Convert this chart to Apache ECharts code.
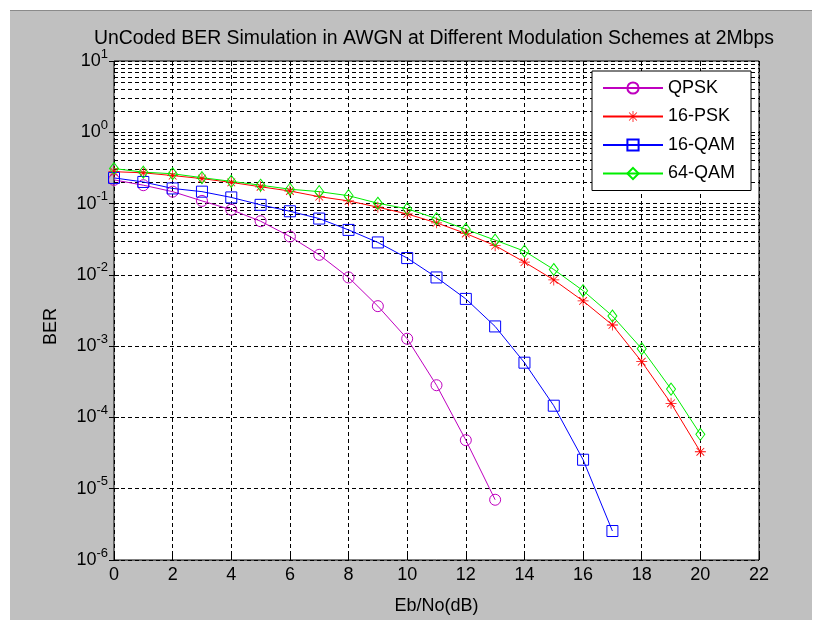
<!DOCTYPE html>
<html>
<head>
<meta charset="utf-8">
<script src="https://cdn.jsdelivr.net/npm/echarts@6/dist/echarts.min.js"></script>
<style>
  html, body { margin: 0; padding: 0; background: #fff; }
  #berChart {
    position: absolute; left: 10px; top: 10px;
    width: 802px; height: 610px;
    border-top: 1px solid #8a8a8a;
    box-sizing: border-box;
  }
</style>
</head>
<body>
<div id="berChart"></div>
<script>
// Eb/No (dB) and BER values
const ebno = [0, 1, 2, 3, 4, 5, 6, 7, 8, 9, 10, 11, 12, 13, 14, 15, 16, 17, 18, 19, 20];
const qpsk = [0.215, 0.181, 0.147, 0.109, 0.082, 0.0566, 0.0345, 0.0191, 0.0092, 0.00364, 0.00127, 2.83e-4, 4.8e-5, 7.0e-6];
const psk16 = [0.28, 0.27, 0.247, 0.224, 0.198, 0.172, 0.150, 0.125, 0.109, 0.089, 0.0715, 0.0537, 0.038, 0.0257, 0.0151, 0.0085, 0.0043, 0.00198, 6.05e-4, 1.58e-4, 3.3e-5];
const qam16 = [0.229, 0.201, 0.163, 0.147, 0.122, 0.096, 0.078, 0.0616, 0.0427, 0.0285, 0.0172, 0.0092, 0.0046, 0.00189, 5.86e-4, 1.46e-4, 2.55e-5, 2.55e-6];
const qam64 = [0.31, 0.276, 0.262, 0.231, 0.205, 0.181, 0.159, 0.147, 0.129, 0.101, 0.0845, 0.0616, 0.0436, 0.0307, 0.0215, 0.0119, 0.0060, 0.00265, 9.2e-4, 2.5e-4, 5.8e-5];
const xTicks = [0, 2, 4, 6, 8, 10, 12, 14, 16, 18, 20, 22];
const decades = [-6, -5, -4, -3, -2, -1, 0];

const font = "'Liberation Sans Narrow', 'Liberation Sans', Arial, sans-serif";
const dash = [4, 3];

// matlab style '*' marker
const asterisk = 'path://M9.3 0L10.7 0L10.7 20L9.3 20Z M0 9.3L20 9.3L20 10.7L0 10.7Z ' +
  'M2.5 3.5L3.5 2.5L17.5 16.5L16.5 17.5Z M16.5 2.5L17.5 3.5L3.5 17.5L2.5 16.5Z';

function pairs(vals) {
  return vals.map((v, i) => [ebno[i], v]);
}

// minor grid lines 2..9 x 10^k
let minorLines = [];
decades.forEach(k => {
  for (let m = 2; m <= 9; m++) {
    minorLines.push({ yAxis: m * Math.pow(10, k) });
  }
});

function curve(name, vals, color, symbol, size) {
  return {
    name: name,
    type: 'line',
    data: pairs(vals),
    symbol: symbol,
    symbolSize: size,
    z: 3,
    lineStyle: { color: color, width: 1 },
    itemStyle: {
      color: symbol === asterisk ? color : 'transparent',
      borderColor: color,
      borderWidth: symbol === asterisk ? 0 : 1
    }
  };
}

let myChart = echarts.init(document.getElementById('berChart'));
let option = {
  animation: false,
  backgroundColor: '#c0c0c0',
  title: {
    text: 'UnCoded BER Simulation in AWGN at Different Modulation Schemes at 2Mbps',
    left: 419,
    top: 13,
    textAlign: 'center',
    textStyle: { fontFamily: font, fontSize: 19.4, fontWeight: 'normal', color: '#000' }
  },
  grid: {
    left: 104, top: 50, width: 645, height: 509,
    show: true, backgroundColor: '#fff', borderColor: '#000', borderWidth: 1
  },
  legend: {
    orient: 'vertical',
    left: 582, top: 60,
    z: 10,
    itemWidth: 60, itemHeight: 14, itemGap: 10.5,
    padding: [8, 16, 8, 10],
    backgroundColor: '#fff',
    borderColor: '#000', borderWidth: 1,
    textStyle: { fontFamily: font, fontSize: 18, color: '#000' },
    data: ['QPSK', '16-PSK', '16-QAM', '64-QAM']
  },
  xAxis: [{
    type: 'value', min: 0, max: 22, interval: 2,
    name: 'Eb/No(dB)', nameLocation: 'middle', nameGap: 37,
    nameTextStyle: { fontFamily: font, fontSize: 18, color: '#000' },
    axisLine: { show: false },
    axisTick: { inside: true, length: 5, lineStyle: { color: '#000' } },
    axisLabel: { fontFamily: font, fontSize: 18, color: '#000', margin: 6,
      customValues: xTicks },
    splitLine: { show: true, lineStyle: { color: '#000', type: dash } }
  }, {
    type: 'value', min: 0, max: 22, interval: 2, position: 'top',
    axisLine: { show: false },
    axisTick: { inside: true, length: 5, lineStyle: { color: '#000' } },
    axisLabel: { show: false },
    splitLine: { show: false }
  }],
  yAxis: [{
    type: 'log', logBase: 10, min: 1e-6, max: 10, interval: 1,
    name: 'BER', nameLocation: 'middle', nameGap: 54,
    nameTextStyle: { fontFamily: font, fontSize: 18, color: '#000', padding: [0, 32, 0, 0] },
    axisLine: { show: false },
    axisTick: { inside: true, length: 5, lineStyle: { color: '#000' } },
    axisLabel: {
      margin: 6,
      formatter: v => '{b|10}{s|' + Math.round(Math.log10(v)) + '}',
      rich: {
        b: { fontFamily: font, fontSize: 18, color: '#000' },
        s: { fontFamily: font, fontSize: 13, color: '#000', padding: [0, 0, 14, 0] }
      }
    },
    splitLine: { show: true, lineStyle: { color: '#000', type: dash } }
  }, {
    type: 'log', logBase: 10, min: 1e-6, max: 10, interval: 1, position: 'right',
    axisLine: { show: false },
    axisTick: { inside: true, length: 5, lineStyle: { color: '#000' } },
    axisLabel: { show: false },
    splitLine: { show: false }
  }],
  series: [
    {
      name: 'minor grid',
      type: 'line',
      data: [],
      z: 1,
      silent: true,
      markLine: {
        z: 1,
        silent: true,
        symbol: 'none',
        animation: false,
        label: { show: false },
        lineStyle: { color: '#000', type: dash, width: 1 },
        data: minorLines
      }
    },
    curve('QPSK', qpsk, '#bf00bf', 'circle', 11),
    curve('16-PSK', psk16, '#ff0000', asterisk, 11),
    curve('16-QAM', qam16, '#0000ff', 'rect', 11),
    curve('64-QAM', qam64, '#00ee00', 'diamond', [9, 12])
  ]
};
myChart.setOption(option);
</script>
</body>
</html>
